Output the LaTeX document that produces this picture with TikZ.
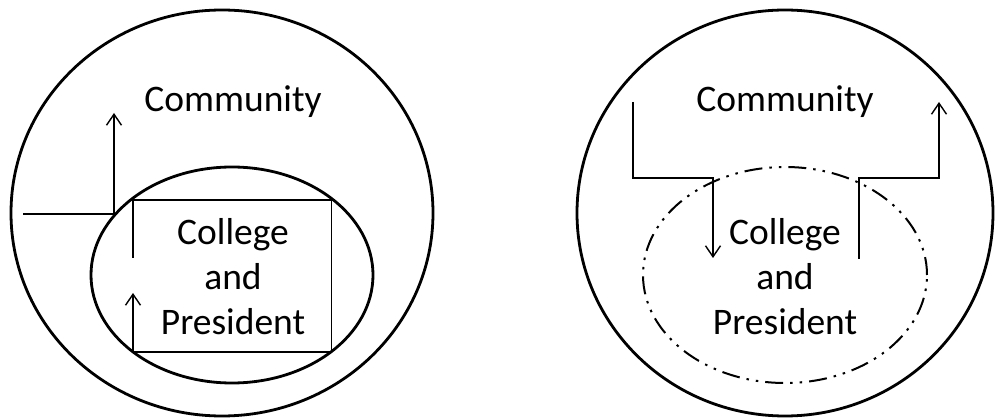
\documentclass[tikz,border=0pt]{standalone}
\usepackage{fontspec}
\setmainfont{Carlito}
\usetikzlibrary{arrows.meta,positioning}

\begin{document}
\begin{tikzpicture}[
  x=1pt,y=-1pt,
  ring/.style={draw,line width=2.8pt},
  dashring/.style={draw,line width=2pt,dash pattern=on 18pt off 7pt on 2.5pt off 7pt on 2.5pt off 7pt},
  edge/.style={draw,line width=1.4pt},
  flow/.style={edge,-{Straight Barb[length=11pt,width=15pt,line width=1.4pt]}},
  txt/.style={font=\fontsize{37.5}{45}\selectfont,align=center,inner sep=0pt}
]
  \useasboundingbox (0,0) rectangle (998,419);
  % Left: college inside community
  \draw[ring] (222,213) ellipse [x radius=211pt,y radius=203pt];
  \draw[ring] (232,275) ellipse [x radius=141pt,y radius=108pt];
  \node[txt] (commL) at (233,102) {Community};
  \node[txt] (collL) at (233,277) {College\\and\\President};
  \coordinate (inL) at (23,214);
  \coordinate (upL) at (114,113);
  \coordinate (boxTL) at (133,200);
  \coordinate (boxTR) at (331,200);
  \coordinate (boxBR) at (331,352);
  \coordinate (boxBL) at (133,352);
  \coordinate (gapTop) at (133,258);
  \coordinate (gapTip) at (133,293);
  \draw[flow] (inL) -| (upL);
  \draw[edge] (gapTop) -- (boxTL) -- (boxTR);
  \draw[line width=0.8pt] (boxTR) -- (boxBR);
  \draw[flow] (boxBR) -- (boxBL) -- (gapTip);
  % Right: open boundary
  \draw[ring] (785,213) ellipse [x radius=208pt,y radius=203pt];
  \draw[dashring] (785,275) ellipse [x radius=142pt,y radius=108pt];
  \node[txt] (commR) at (785,102) {Community};
  \node[txt] (collR) at (785,277) {College\\and\\President};
  \coordinate (outA) at (633,102);
  \coordinate (bendA) at (713,178);
  \coordinate (tipA) at (713,258);
  \coordinate (outB) at (859,259);
  \coordinate (bendB) at (859,178);
  \coordinate (tipB) at (939,102);
  \draw[flow] (outA) |- (bendA) -- (tipA);
  \draw[flow] (outB) -- (bendB) -| (tipB);
\end{tikzpicture}
\end{document}
